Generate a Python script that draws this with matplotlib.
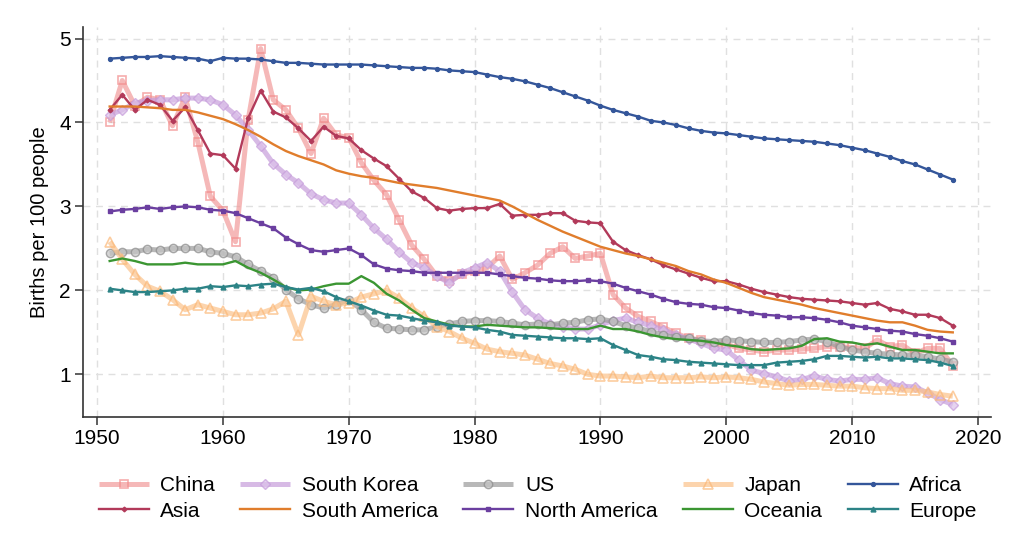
import matplotlib
matplotlib.use('Agg')
import matplotlib.pyplot as plt

# ---- data: births per 100 people, 1951-2018 ----
years = list(range(1951, 2019))

china = [4.00, 4.50, 4.20, 4.30, 4.27, 3.96, 4.30, 3.77, 3.12, 2.95,
         2.58, 4.03, 4.88, 4.27, 4.15, 3.93, 3.63, 4.05, 3.85, 3.82,
         3.52, 3.31, 3.14, 2.84, 2.54, 2.37, 2.17, 2.11, 2.19, 2.23,
         2.27, 2.41, 2.13, 2.21, 2.30, 2.44, 2.52, 2.38, 2.41, 2.44,
         1.95, 1.79, 1.69, 1.63, 1.56, 1.49, 1.43, 1.41, 1.35, 1.36,
         1.31, 1.29, 1.27, 1.29, 1.29, 1.30, 1.31, 1.33, 1.33, 1.32,
         1.31, 1.41, 1.33, 1.35, 1.25, 1.31, 1.31, 1.10]
asia = [4.15, 4.33, 4.15, 4.27, 4.21, 4.02, 4.18, 3.91, 3.63, 3.61,
        3.45, 4.05, 4.38, 4.13, 4.06, 3.93, 3.78, 3.95, 3.84, 3.81,
        3.67, 3.57, 3.48, 3.33, 3.18, 3.10, 2.98, 2.95, 2.97, 2.98,
        2.98, 3.03, 2.89, 2.90, 2.90, 2.92, 2.92, 2.83, 2.81, 2.80,
        2.58, 2.48, 2.42, 2.37, 2.30, 2.25, 2.20, 2.15, 2.11, 2.11,
        2.07, 2.02, 1.98, 1.95, 1.92, 1.90, 1.89, 1.88, 1.87, 1.85,
        1.83, 1.85, 1.78, 1.75, 1.71, 1.71, 1.67, 1.58]
south_korea = [4.09, 4.15, 4.23, 4.26, 4.27, 4.27, 4.29, 4.29, 4.27, 4.21,
               4.09, 3.91, 3.72, 3.51, 3.38, 3.28, 3.15, 3.08, 3.04, 3.04,
               2.90, 2.74, 2.61, 2.46, 2.33, 2.27, 2.17, 2.09, 2.21, 2.27,
               2.33, 2.23, 1.98, 1.77, 1.67, 1.60, 1.57, 1.54, 1.54, 1.59,
               1.64, 1.67, 1.62, 1.58, 1.53, 1.47, 1.42, 1.37, 1.31, 1.29,
               1.17, 1.05, 1.01, 0.97, 0.92, 0.94, 0.98, 0.94, 0.92, 0.94,
               0.94, 0.96, 0.89, 0.86, 0.85, 0.78, 0.70, 0.64]
us = [2.44, 2.46, 2.46, 2.49, 2.48, 2.50, 2.50, 2.50, 2.46, 2.44,
      2.40, 2.31, 2.23, 2.15, 2.01, 1.90, 1.83, 1.79, 1.83, 1.89,
      1.77, 1.62, 1.55, 1.54, 1.53, 1.53, 1.57, 1.60, 1.63, 1.64,
      1.64, 1.63, 1.61, 1.59, 1.60, 1.59, 1.61, 1.62, 1.65, 1.66,
      1.63, 1.58, 1.55, 1.51, 1.47, 1.44, 1.43, 1.40, 1.39, 1.41,
      1.40, 1.39, 1.38, 1.38, 1.39, 1.41, 1.42, 1.39, 1.33, 1.29,
      1.27, 1.25, 1.24, 1.23, 1.23, 1.21, 1.18, 1.15]
japan = [2.58, 2.37, 2.19, 2.05, 1.99, 1.89, 1.77, 1.83, 1.79, 1.75,
         1.71, 1.71, 1.73, 1.78, 1.87, 1.47, 1.93, 1.87, 1.83, 1.85,
         1.92, 1.96, 2.00, 1.91, 1.79, 1.69, 1.57, 1.51, 1.43, 1.37,
         1.30, 1.27, 1.25, 1.23, 1.18, 1.13, 1.10, 1.06, 1.00, 0.98,
         0.98, 0.97, 0.96, 0.98, 0.96, 0.96, 0.96, 0.97, 0.96, 0.97,
         0.96, 0.94, 0.91, 0.89, 0.87, 0.88, 0.88, 0.87, 0.86, 0.86,
         0.84, 0.83, 0.83, 0.81, 0.81, 0.79, 0.76, 0.74]
africa = [4.76, 4.77, 4.78, 4.78, 4.79, 4.78, 4.77, 4.76, 4.73, 4.77,
          4.76, 4.76, 4.75, 4.73, 4.71, 4.71, 4.70, 4.69, 4.69, 4.69,
          4.69, 4.68, 4.67, 4.66, 4.65, 4.65, 4.64, 4.62, 4.61, 4.60,
          4.57, 4.54, 4.52, 4.49, 4.45, 4.41, 4.36, 4.31, 4.26, 4.20,
          4.15, 4.11, 4.07, 4.02, 4.00, 3.97, 3.93, 3.90, 3.88, 3.87,
          3.85, 3.83, 3.81, 3.80, 3.79, 3.78, 3.77, 3.75, 3.73, 3.70,
          3.67, 3.63, 3.59, 3.54, 3.50, 3.44, 3.38, 3.32]
south_america = [4.19, 4.19, 4.19, 4.18, 4.17, 4.15, 4.15, 4.12, 4.08, 4.04,
                 3.98, 3.91, 3.83, 3.74, 3.66, 3.60, 3.55, 3.50, 3.43, 3.39,
                 3.36, 3.34, 3.31, 3.28, 3.26, 3.24, 3.22, 3.19, 3.16, 3.13,
                 3.10, 3.07, 3.00, 2.92, 2.84, 2.77, 2.70, 2.64, 2.58, 2.52,
                 2.48, 2.44, 2.41, 2.37, 2.33, 2.29, 2.23, 2.19, 2.13, 2.09,
                 2.03, 1.97, 1.92, 1.89, 1.86, 1.83, 1.79, 1.76, 1.73, 1.70,
                 1.67, 1.64, 1.62, 1.62, 1.58, 1.53, 1.51, 1.50]
north_america = [2.94, 2.96, 2.97, 2.99, 2.97, 2.99, 3.00, 2.99, 2.96, 2.95,
                 2.92, 2.86, 2.80, 2.74, 2.63, 2.55, 2.48, 2.46, 2.48, 2.50,
                 2.42, 2.31, 2.26, 2.24, 2.23, 2.21, 2.21, 2.21, 2.21, 2.21,
                 2.21, 2.19, 2.17, 2.15, 2.14, 2.12, 2.11, 2.11, 2.12, 2.11,
                 2.08, 2.03, 1.99, 1.95, 1.90, 1.86, 1.84, 1.83, 1.80, 1.79,
                 1.76, 1.73, 1.71, 1.70, 1.68, 1.68, 1.67, 1.65, 1.62, 1.58,
                 1.56, 1.54, 1.52, 1.51, 1.48, 1.46, 1.43, 1.39]
oceania = [2.35, 2.38, 2.35, 2.31, 2.31, 2.31, 2.33, 2.31, 2.31, 2.31,
           2.35, 2.27, 2.21, 2.13, 2.04, 2.00, 2.01, 2.05, 2.08, 2.08,
           2.17, 2.09, 1.96, 1.88, 1.77, 1.67, 1.63, 1.59, 1.57, 1.57,
           1.59, 1.58, 1.57, 1.56, 1.56, 1.55, 1.54, 1.54, 1.54, 1.58,
           1.54, 1.54, 1.51, 1.47, 1.44, 1.42, 1.41, 1.40, 1.38, 1.35,
           1.33, 1.30, 1.29, 1.30, 1.31, 1.34, 1.42, 1.43, 1.39, 1.38,
           1.35, 1.37, 1.33, 1.29, 1.29, 1.27, 1.25, 1.25]
europe = [2.02, 2.00, 1.98, 1.98, 1.99, 2.00, 2.02, 2.02, 2.05, 2.04,
          2.06, 2.05, 2.07, 2.08, 2.04, 2.01, 2.03, 1.99, 1.92, 1.87,
          1.82, 1.76, 1.71, 1.70, 1.67, 1.64, 1.62, 1.58, 1.57, 1.56,
          1.53, 1.51, 1.47, 1.46, 1.45, 1.44, 1.43, 1.43, 1.42, 1.43,
          1.35, 1.29, 1.23, 1.21, 1.18, 1.17, 1.15, 1.14, 1.13, 1.12,
          1.11, 1.11, 1.11, 1.14, 1.15, 1.16, 1.18, 1.22, 1.22, 1.21,
          1.20, 1.21, 1.19, 1.19, 1.18, 1.17, 1.14, 1.10]

x_ticks = [1950, 1960, 1970, 1980, 1990, 2000, 2010, 2020]
y_ticks = [1, 2, 3, 4, 5]

plt.rcParams['font.family'] = ['Liberation Sans', 'DejaVu Sans']

fig = plt.figure(figsize=(10.24, 5.35), dpi=100)
ax = fig.add_axes([0.0813, 0.221, 0.886, 0.729])

# thick, faded country lines
thick = dict(lw=3.6, alpha=0.7, solid_capstyle='butt')
l_china, = ax.plot(years, china, color='#f29a9a', marker='s', ms=6,
                   mfc='none', mec='#f28a8a', mew=1.2, label='China', **thick)
l_sk, = ax.plot(years, south_korea, color='#c69ddb', marker='D', ms=5,
                mfc='#dcc2ea', mec='#c69ddb', label='South Korea', **thick)
l_us, = ax.plot(years, us, color='#9a9a9a', marker='o', ms=6,
                mfc='#c4c4c4', mec='#8a8a8a', label='US', **thick)
l_jp, = ax.plot(years, japan, color='#fcc28a', marker='^', ms=6.5,
                mfc='none', mec='#fbb878', mew=1.2, label='Japan', **thick)

# thin region lines
thin = dict(lw=1.7)
l_af, = ax.plot(years, africa, color='#34569a', marker='o', ms=2.8,
                label='Africa', **thin)
l_as, = ax.plot(years, asia, color='#b23a5a', marker='D', ms=2.4,
                label='Asia', **thin)
l_sa, = ax.plot(years, south_america, color='#e07d2c', label='South America', **thin)
l_na, = ax.plot(years, north_america, color='#6b3fa0', marker='s', ms=3,
                label='North America', **thin)
l_oc, = ax.plot(years, oceania, color='#3b9632', label='Oceania', **thin)
l_eu, = ax.plot(years, europe, color='#2c8386', marker='^', ms=3.5,
                label='Europe', **thin)

ax.set_xlim(1948.9, 2021.0)
ax.set_ylim(0.495, 5.14)
ax.set_xticks(x_ticks)
ax.set_yticks(y_ticks)
ax.grid(True, ls=(0, (5, 4)), color='#e0e0e0', lw=1.0)
ax.set_axisbelow(True)
for s in ['top', 'right']:
    ax.spines[s].set_visible(False)
for s in ['left', 'bottom']:
    ax.spines[s].set_color('#333333')
    ax.spines[s].set_linewidth(1.2)
ax.tick_params(axis='both', labelsize=15, color='#333333', length=6, width=1.1)
ax.tick_params(axis='y', pad=3)
ax.tick_params(axis='x', pad=3)
ax.set_ylabel('Births per 100 people', fontsize=14.5, labelpad=7)

# legend: matplotlib fills columns first, so interleave the two rows
handles = [l_china, l_as, l_sk, l_sa, l_us, l_na, l_jp, l_oc, l_af, l_eu]
fig.legend(handles=handles, loc='center', bbox_to_anchor=(0.525, 0.068),
           ncol=5, frameon=False, fontsize=15, handlelength=2.4,
           handletextpad=0.55, columnspacing=1.22, labelspacing=0.3)

plt.savefig('out.png', dpi=100)
